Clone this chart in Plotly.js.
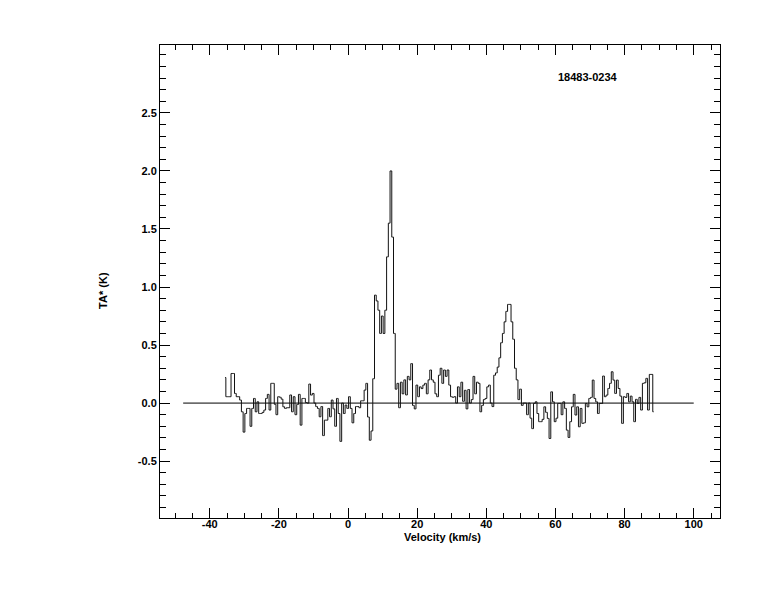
<!DOCTYPE html>
<html>
<head>
<meta charset="utf-8">
<script src="https://cdn.plot.ly/plotly-3.0.1.min.js"></script>
<style>html,body{margin:0;padding:0;background:#fff;}#chart{width:774px;height:612px;}</style>
</head>
<body>
<div id="chart"></div>
<script>
// Spectrum of source 18483-0234: antenna temperature TA* (K) per 0.5 km/s channel
var sourceName = "18483-0234";
var vFirstChannel = -35.6;   // centre velocity of first channel (km/s)
var channelWidth = 0.5;      // km/s

var taSeg1 = [0.22, 0.055, 0.055, 0.055, 0.255, 0.255, 0.083, 0.055, 0.055, 0.026, -0.075, -0.25, -0.09, -0.046,
              -0.046, -0.2, -0.046, 0.04, -0.075, 0.011,
              -0.09, -0.09, -0.08, -0.06, 0.04, 0.075, -0.06, 0.17, 0.17, -0.01, -0.1, 0.055, 0.05, 0.034];
var taSeg2 = [-0.032, -0.046, -0.04, -0.04, 0.07, -0.075, 0.055, -0.1, -0.012, 0.075, -0.19, 0.04, 0.04, 0.005,
              0.0, 0.164, 0.069, 0.083, 0.0, -0.03, -0.046, -0.118, -0.03, -0.28, -0.147, -0.147, -0.046, -0.118,
              0.026, -0.05, -0.2, 0.04, -0.09, -0.33, 0.0, -0.09, -0.017, -0.046, 0.055, -0.046, -0.17, -0.09,
              -0.03, -0.03, -0.04, 0.02, 0.02, 0.112, 0.17, -0.12, -0.32, -0.24, 0.21];
var taSeg3 = [0.93, 0.88, 0.8, 0.6, 0.75, 0.6, 0.8, 1.26, 1.55, 2.0, 1.43, 0.6, 0.12, 0.17, -0.04,
              0.18, 0.08, 0.2, 0.07, 0.23, 0.2, 0.34, -0.02, -0.05, 0.155, 0.055, 0.14, 0.125, 0.155,
              0.17, 0.08, 0.2, 0.285, 0.2, 0.18, 0.08, 0.055, 0.24, 0.3, 0.17, 0.285, 0.23, 0.285,
              0.155, 0.055, 0.05, 0.055, 0.0, 0.14, 0.055, 0.18, 0.015, 0.11, -0.05, 0.117, 0.0, 0.03,
              0.23, 0.08, 0.18, 0.17, -0.075, -0.02, 0.03, 0.04, 0.14, 0.155, 0.0, -0.03];
var taSeg4 = [0.24, 0.26, 0.31, 0.39, 0.52, 0.6, 0.7, 0.79, 0.85, 0.85, 0.7, 0.55, 0.3, 0.2, 0.03, 0.12, -0.02, 0.0, 0.0, -0.1, 0.0, -0.13, -0.22,
              -0.003, 0.011, -0.09, -0.16, -0.16, -0.14, -0.032, -0.08, -0.132, -0.305, 0.097, 0.011, -0.16, -0.13,
              -0.003, -0.003, -0.1, 0.011, -0.046, -0.233, -0.296, -0.16, -0.032, 0.075, -0.103, -0.032, -0.204, -0.046,
              -0.175, -0.17, -0.003, -0.032, 0.04, 0.049, 0.198, 0.04, 0.011, -0.09, -0.003, -0.003, 0.233, 0.055,
              0.069, 0.126, 0.17, 0.27, 0.198, 0.083, 0.198, 0.126, 0.06, -0.175, 0.055, 0.049, 0.083, 0.011,
              0.06, 0.011, -0.16, 0.032, -0.003, 0.049, -0.06, 0.17, 0.175, 0.213, -0.06, 0.247, 0.247, -0.075];

var baselineX = [-47.7, 100];
var baselineY = [0, 0];

var xTickVals = [-40, -20, 0, 20, 40, 60, 80, 100];
var xTickText = ["-40", "-20", "0", "20", "40", "60", "80", "100"];
var yTickVals = [-0.5, 0.0, 0.5, 1.0, 1.5, 2.0, 2.5];
var yTickText = ["-0.5", "0.0", "0.5", "1.0", "1.5", "2.0", "2.5"];

var ta = taSeg1.concat(taSeg2, taSeg3, taSeg4);
var velocity = ta.map(function (_, i) { return vFirstChannel + i * channelWidth; });

var labelFont = {family: "Liberation Sans, Arial, sans-serif", size: 11, color: "#000", weight: "bold"};

var traces = [
  {x: baselineX, y: baselineY, type: "scatter", mode: "lines",
   line: {color: "#000", width: 1}, hoverinfo: "skip", showlegend: false},
  {x: velocity, y: ta, type: "scatter", mode: "lines",
   line: {color: "#111", width: 1, shape: "hvh"}, showlegend: false}
];

var axisCommon = {
  showgrid: false, zeroline: false, showline: true, linecolor: "#000", linewidth: 1,
  mirror: "allticks", ticks: "inside", ticklen: 10, tickwidth: 1, tickcolor: "#000",
  tickfont: labelFont
};

var layout = {
  width: 774, height: 612,
  margin: {l: 160, r: 54, t: 45, b: 94},
  paper_bgcolor: "#fff", plot_bgcolor: "#fff",
  showlegend: false,
  xaxis: Object.assign({}, axisCommon, {
    range: [-54.4, 107.6], tickmode: "array", tickvals: xTickVals, ticktext: xTickText,
    ticklabelstandoff: -4,
    minor: {tick0: 0, dtick: 5, ticklen: 5, ticks: "inside", tickcolor: "#000", tickwidth: 1}
  }),
  yaxis: Object.assign({}, axisCommon, {
    range: [-0.99, 3.085], tickmode: "array", tickvals: yTickVals, ticktext: yTickText,
    minor: {tick0: 0, dtick: 0.1, ticklen: 6, ticks: "inside", tickcolor: "#000", tickwidth: 1}
  }),
  annotations: [
    {text: "Velocity (km/s)", xref: "paper", yref: "paper", x: 0.504, y: -0.04,
     xanchor: "center", yanchor: "middle", showarrow: false, font: labelFont},
    {text: "TA* (K)", xref: "paper", yref: "paper", x: -0.102, y: 0.482, textangle: -90,
     xanchor: "center", yanchor: "middle", showarrow: false, font: labelFont},
    {text: sourceName, xref: "paper", yref: "paper", x: 0.764, y: 0.932,
     xanchor: "center", yanchor: "middle", showarrow: false, font: labelFont}
  ]
};

Plotly.newPlot("chart", traces, layout, {displayModeBar: false, staticPlot: true});
</script>
</body>
</html>
